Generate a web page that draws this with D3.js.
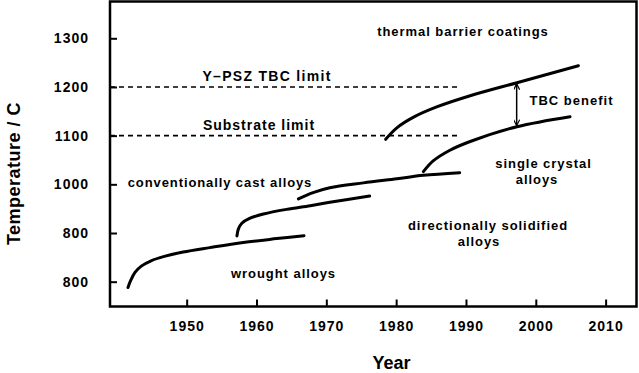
<!DOCTYPE html>
<html>
<head>
<meta charset="utf-8">
<script src="https://cdn.jsdelivr.net/npm/d3@7"></script>
<style>
  html, body { margin: 0; padding: 0; background: #fff; }
  svg { display: block; }
  text { font-family: "Liberation Sans", Arial, Helvetica, sans-serif; font-weight: bold; fill: #000; }
</style>
</head>
<body>
<svg id="chart" width="639" height="373"></svg>
<script>
// ---- data ----
const xTickValues = [1950, 1960, 1970, 1980, 1990, 2000, 2010];
const yTickValues = [800, 900, 1000, 1100, 1200, 1300];
const yTickLabels = ["800", "800", "1000", "1100", "1200", "1300"];

const wroughtAlloys = [[1941.6, 788], [1942.0, 803], [1942.6, 819], [1943.5, 832], [1944.9, 843],
  [1946.8, 852], [1949.5, 861], [1953.3, 870], [1958.1, 880.5], [1962.9, 888.5], [1966.8, 894.5]];
const conventionallyCast = [[1957.2, 894], [1957.4, 908], [1957.9, 920], [1959.0, 930],
  [1961.0, 939], [1964.3, 948.5], [1967.7, 956], [1970.5, 963], [1976.2, 976]];
const directionallySolidified = [[1966.0, 970], [1968.1, 983], [1970.5, 993], [1975.3, 1003],
  [1980.1, 1011.5], [1983.9, 1018.5], [1989.1, 1024]];
const singleCrystal = [[1983.9, 1026], [1985.3, 1048], [1987.7, 1070], [1990.6, 1088],
  [1997.3, 1118.4], [2004.9, 1139]];
const thermalBarrier = [[1978.5, 1092.5], [1980.1, 1116], [1982.5, 1138], [1985.8, 1159],
  [1990.6, 1182], [1997.3, 1208.8], [2006.1, 1243.7]];

const limitNames = ["Y\u2013PSZ TBC limit", "Substrate limit"];
const limitValues = [1200, 1100];
const limitEndYear = 1988.9;

const benefitYear = 1997.26;
const benefitRange = [1118.4, 1208.8];

// ---- layout ----
const svg = d3.select("#chart");
const frameL = 110, frameR = 636.5, frameT = 1.5, frameB = 306.5;

const x = d3.scaleLinear().domain([1939.02, 2014.45]).range([110, 636.7]);
const y = d3.scaleLinear().domain([748, 1376.6]).range([307, 1]);

// axes with inward ticks
const xAxis = d3.axisBottom(x).tickValues(xTickValues).tickSize(-7).tickPadding(15)
  .tickFormat(d3.format("d"));
const yAxis = d3.axisLeft(y).tickValues(yTickValues).tickSize(-7).tickPadding(21)
  .tickFormat((d, i) => yTickLabels[i]);

const gx = svg.append("g").attr("transform", `translate(0,${frameB})`).call(xAxis);
const gy = svg.append("g").attr("transform", `translate(${frameL},0)`).call(yAxis);
[gx, gy].forEach(g => {
  g.select(".domain").remove();
  g.selectAll(".tick line").attr("stroke", "#000").attr("stroke-width", 2);
  g.selectAll(".tick text").style("font-size", "14px").style("letter-spacing", "1px")
    .style("font-family", "'Liberation Sans', Arial, sans-serif").style("font-weight", "bold");
});

// frame
svg.append("rect").attr("x", frameL).attr("y", frameT)
  .attr("width", frameR - frameL).attr("height", frameB - frameT)
  .attr("fill", "none").attr("stroke", "#000").attr("stroke-width", 2.5);

// dashed limits
svg.selectAll("line.limit").data(limitValues).enter().append("line")
  .attr("class", "limit")
  .attr("x1", x(1939.02)).attr("x2", x(limitEndYear))
  .attr("y1", d => y(d)).attr("y2", d => y(d))
  .attr("stroke", "#000").attr("stroke-width", 1.6).attr("stroke-dasharray", "5,4");

// curves
const line = d3.line().x(d => x(d[0])).y(d => y(d[1])).curve(d3.curveCatmullRom.alpha(0.5));
[wroughtAlloys, conventionallyCast, directionallySolidified, singleCrystal, thermalBarrier]
  .forEach(s => {
    svg.append("path").attr("d", line(s)).attr("fill", "none")
      .attr("stroke", "#000").attr("stroke-width", 3).attr("stroke-linecap", "round");
  });

// TBC benefit arrow
const defs = svg.append("defs");
["start", "end"].forEach(k => {
  defs.append("marker").attr("id", "arr-" + k)
    .attr("viewBox", "0 0 6 8").attr("refX", 3).attr("refY", k === "end" ? 8 : 0)
    .attr("markerWidth", 6).attr("markerHeight", 8).attr("markerUnits", "userSpaceOnUse")
    .attr("orient", "0")
    .append("path")
    .attr("d", k === "end" ? "M0,2 L3,8 L6,2" : "M0,6 L3,0 L6,6")
    .attr("fill", "none").attr("stroke", "#000").attr("stroke-width", 1.2);
});
svg.append("line")
  .attr("x1", x(benefitYear)).attr("x2", x(benefitYear))
  .attr("y1", y(benefitRange[1]) + 1).attr("y2", y(benefitRange[0]) - 1)
  .attr("stroke", "#000").attr("stroke-width", 1.5)
  .attr("marker-start", "url(#arr-start)").attr("marker-end", "url(#arr-end)");

// annotation labels
function label(txt, cx, by, size, ls) {
  svg.append("text").attr("x", cx).attr("y", by).attr("text-anchor", "middle")
    .style("font-size", size + "px").style("letter-spacing", ls + "px").text(txt);
}
label("thermal barrier coatings", 463, 36, 13, 0.95);
label(limitNames[0], 267, y(limitValues[0]) - 6, 14, 1.3);
label(limitNames[1], 259, y(limitValues[1]) - 6, 14, 1.0);
label("TBC benefit", 571.5, 105, 13, 1.0);
label("single crystal", 543.5, 168, 13, 0.95);
label("alloys", 537, 184, 13, 0.95);
label("conventionally cast alloys", 220, 187, 13, 0.9);
label("directionally solidified", 488, 230, 13, 0.95);
label("alloys", 479, 246, 13, 0.95);
label("wrought alloys", 283.5, 278, 13, 0.95);

// axis titles
svg.append("text").attr("x", 391.5).attr("y", 369).attr("text-anchor", "middle")
  .style("font-size", "18px").text("Year");
svg.append("text").attr("transform", "translate(20,173.5) rotate(-90)")
  .attr("text-anchor", "middle").style("font-size", "18px").style("letter-spacing", "0.5px")
  .text("Temperature / C");
</script>
</body>
</html>
